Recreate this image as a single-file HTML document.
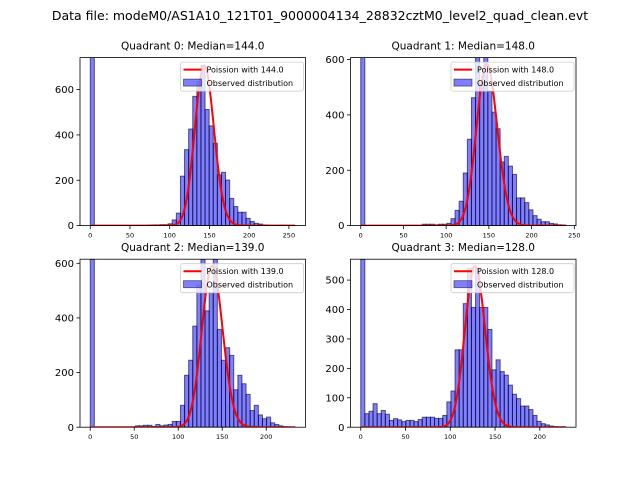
<!DOCTYPE html>
<html><head><meta charset="utf-8"><style>
body{margin:0;background:#fff;}
svg{display:block;font-family:"DejaVu Sans","Liberation Sans",sans-serif;}
</style></head><body>
<svg id="fig" width="640" height="480" viewBox="0 0 640 480" xmlns="http://www.w3.org/2000/svg">
<rect width="640" height="480" fill="#fff"/>
<text x="320" y="20" font-size="12.5" text-anchor="middle">Data file: modeM0/AS1A10_121T01_9000004134_28832cztM0_level2_quad_clean.evt</text>
</svg>
<script>
const medians = [144.0, 148.0, 139.0, 128.0];
const binMax = [258, 240, 233, 229];
const yMax = [741, 607, 615, 571];
const curvePeak = [706, 584, 590, 547];
const yTicks0 = [0, 200, 400, 600];
const yTicks1 = [0, 200, 400, 600];
const yTicks2 = [0, 200, 400, 600];
const yTicks3 = [0, 100, 200, 300, 400, 500];
const xTicks0 = [0, 50, 100, 150, 200, 250];
const xTicks1 = [0, 50, 100, 150, 200, 250];
const xTicks2 = [0, 50, 100, 150, 200];
const xTicks3 = [0, 50, 100, 150, 200];
const q0Counts = [1500,0,0,0,0,0,0,0,0,0,0,0,0,0,2,3,3,4,4,8,25,55,218,335,426,570,636,706,512,440,363,224,235,201,120,84,59,59,32,18,10,7,3,2,1,1,2,1,1,0];
const q1Counts = [1500,0,0,0,0,0,0,0,0,0,0,0,0,0,0,5,5,5,3,5,5,8,25,55,88,190,312,462,620,515,610,485,410,350,230,250,215,185,100,100,83,57,36,23,14,14,8,6,3,2];
const q2Counts = [1500,0,0,0,0,0,0,0,0,0,0,5,5,7,7,3,10,5,8,10,21,21,80,190,245,370,520,620,426,493,620,358,245,291,263,137,190,159,120,61,80,45,31,37,16,10,5,2,1,0];
const q3Counts = [1500,46,54,80,46,57,44,23,29,25,19,23,23,19,26,34,34,34,30,30,40,86,123,263,263,420,540,407,540,407,407,332,195,229,189,177,143,112,97,72,72,60,40,20,12,8,4,2,1,1];

const allCounts = [q0Counts, q1Counts, q2Counts, q3Counts];
const allY = [yTicks0, yTicks1, yTicks2, yTicks3];
const allX = [xTicks0, xTicks1, xTicks2, xTicks3];
const NS = "http://www.w3.org/2000/svg";
const svg = document.getElementById('fig');
const W = 225.5, H = 168;
const boxes = [[80, 57.6], [350.5, 57.6], [80, 259.2], [350.5, 259.2]];

function mk(tag, attrs, parent) {
  const e = document.createElementNS(NS, tag);
  for (const k in attrs) e.setAttribute(k, attrs[k]);
  (parent || svg).appendChild(e);
  return e;
}
function logFact(n) { let s = 0; for (let i = 2; i <= n; i++) s += Math.log(i); return s; }
function logPois(k, lam) { return k * Math.log(lam) - lam - logFact(k); }

for (let q = 0; q < 4; q++) {
  const [L, T] = boxes[q];
  const counts = allCounts[q];
  const mx = binMax[q];
  const x0 = -0.05 * mx, x1 = 1.05 * mx;
  const sx = v => L + (v - x0) / (x1 - x0) * W;
  const sy = v => T + H - Math.min(v, yMax[q]) / yMax[q] * H;
  const g = mk('g', {});
  
  
  const clipId = 'clip' + q;
  const cp = mk('clipPath', {id: clipId}, g);
  mk('rect', {x: L, y: T, width: W, height: H}, cp);
  const bars = mk('g', {'clip-path': 'url(#' + clipId + ')'}, g);
  const bw = mx / counts.length;
  counts.forEach((c, i) => {
    const xa = sx(i * bw), xb = sx((i + 1) * bw);
    const r = mk('rect', {x: xa, y: sy(c), width: xb - xa, height: sy(0) - sy(c),
      fill: 'rgba(0,0,255,0.5)', stroke: 'rgba(0,0,40,0.6)', 'stroke-width': 1}, bars);
    
    
  });
  const lam = medians[q];
  const peakLog = logPois(Math.floor(lam), lam);
  let d = '';
  for (let k = 0; k <= mx; k++) {
    const v = curvePeak[q] * Math.exp(logPois(k, lam) - peakLog);
    d += (k ? 'L' : 'M') + sx(k).toFixed(2) + ',' + sy(v).toFixed(2);
  }
  const pl = mk('path', {d: d, fill: 'none', stroke: '#ff0000', 'stroke-width': 2, 'stroke-linejoin': 'round'}, bars);
  
  
  mk('rect', {x: L, y: T, width: W, height: H, fill: 'none', stroke: '#000', 'stroke-width': 0.8}, g);
  allX[q].forEach(t => {
    const x = sx(t);
    mk('line', {x1: x, x2: x, y1: T + H, y2: T + H + 3.5, stroke: '#000', 'stroke-width': 0.8}, g);
    const tx = mk('text', {x: x, y: T + H + 12, 'font-size': 6.5, 'text-anchor': 'middle'}, g);
    tx.textContent = t;
    
    
  });
  allY[q].forEach(t => {
    const y = sy(t);
    mk('line', {x1: L - 3.5, x2: L, y1: y, y2: y, stroke: '#000', 'stroke-width': 0.8}, g);
    const ty = mk('text', {x: L - 6, y: y + 3.6, 'font-size': 10, 'text-anchor': 'end'}, g);
    ty.textContent = t;
    
    
  });
  const tt = mk('text', {x: L + W / 2, y: T - 8, 'font-size': 10.5, 'text-anchor': 'middle'}, g);
  tt.textContent = 'Quadrant ' + q + ': Median=' + medians[q].toFixed(1);
  
  
  const lg = mk('g', {}, g);
  
  
  const lx = L + W - 125, ly = T + 4.5;
  mk('rect', {x: lx, y: ly, width: 123, height: 29, rx: 2, fill: 'rgba(255,255,255,0.8)', stroke: '#ccc', 'stroke-width': 0.8}, lg);
  mk('line', {x1: lx + 3, x2: lx + 21, y1: ly + 7.5, y2: ly + 7.5, stroke: '#ff0000', 'stroke-width': 2}, lg);
  const t1 = mk('text', {x: lx + 26, y: ly + 10.5, 'font-size': 8}, lg);
  t1.textContent = 'Poission with ' + medians[q].toFixed(1);
  mk('rect', {x: lx + 3, y: ly + 17, width: 18, height: 7, fill: 'rgba(0,0,255,0.5)', stroke: 'rgba(0,0,40,0.6)', 'stroke-width': 0.8}, lg);
  const t2 = mk('text', {x: lx + 26, y: ly + 24, 'font-size': 8}, lg);
  t2.textContent = 'Observed distribution';
}
</script>
</body></html>
